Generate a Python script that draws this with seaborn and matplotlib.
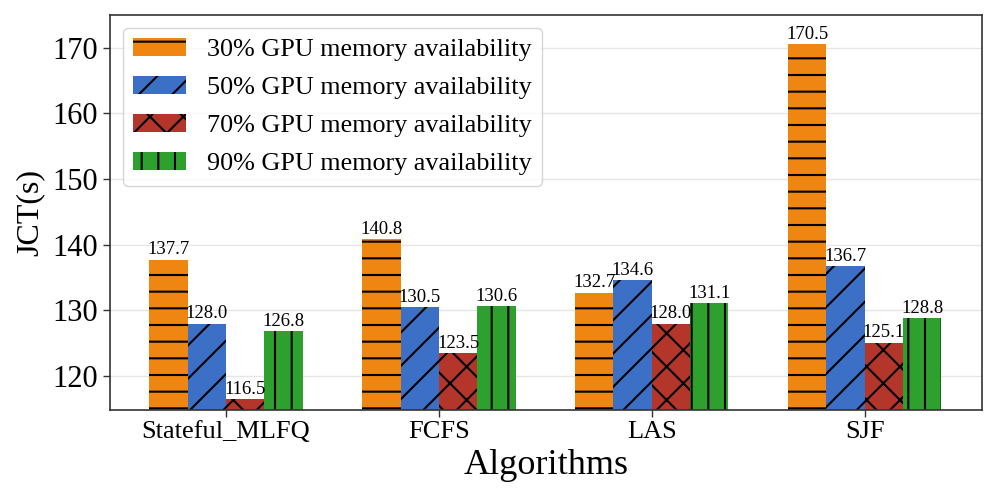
import numpy as np
import pandas as pd
import seaborn as sns
import matplotlib
matplotlib.use("Agg")
import matplotlib.pyplot as plt

algorithms = ["Stateful_MLFQ", "FCFS", "LAS", "SJF"]
levels = ["30% GPU memory availability", "50% GPU memory availability",
          "70% GPU memory availability", "90% GPU memory availability"]
jct_30 = [137.7, 140.8, 132.7, 170.5]
jct_50 = [128.0, 130.5, 134.6, 136.7]
jct_70 = [116.5, 123.5, 128.0, 125.1]
jct_90 = [126.8, 130.6, 131.1, 128.8]

colors = ["#EF8612", "#3C6FC6", "#B4362B", "#2DA02D"]
hatches = ["-", "/", "x", "|"]

rows = []
for lvl, vals in zip(levels, [jct_30, jct_50, jct_70, jct_90]):
    for alg, v in zip(algorithms, vals):
        rows.append({"Algorithm": alg, "Level": lvl, "JCT": v})
df = pd.DataFrame(rows)

sns.set_style("whitegrid")
plt.rcParams["font.family"] = ["Liberation Serif", "DejaVu Serif"]
plt.rcParams["hatch.linewidth"] = 1.5
plt.rcParams["hatch.color"] = "black"
plt.rcParams["text.color"] = "black"
plt.rcParams["axes.labelcolor"] = "black"
plt.rcParams["xtick.color"] = "black"
plt.rcParams["ytick.color"] = "black"

fig, ax = plt.subplots(figsize=(9.97, 4.98), dpi=100)
fig.subplots_adjust(left=0.1103, right=0.9847, top=0.9705, bottom=0.1775)

sns.barplot(data=df, x="Algorithm", y="JCT", hue="Level", palette=colors,
            width=0.72, gap=0, edgecolor="black", linewidth=0,
            legend=False, ax=ax, saturation=1)

for cont, h in zip(ax.containers, hatches):
    for p in cont:
        p.set_hatch(h)
        p.set_edgecolor("black")
        p.set_linewidth(0)
    ax.bar_label(cont, fmt="%.1f", fontsize=13.5, padding=1)

ax.set_ylim(114.9, 175.0)
ax.set_xlim(-0.545, 3.55)
ax.set_yticks([120, 130, 140, 150, 160, 170])
ax.grid(axis="x", visible=False)
ax.grid(axis="y", color="#e6e6e6", linewidth=1)
ax.set_axisbelow(True)
for s in ax.spines.values():
    s.set_visible(True)
    s.set_color("#333333")
    s.set_linewidth(1.2)
ax.tick_params(axis="both", which="both", length=5, width=1, color="#333333",
               bottom=True, left=True)
ax.tick_params(axis="y", labelsize=22)
ax.tick_params(axis="x", labelsize=19)
ax.set_xlabel("Algorithms", fontsize=26)
ax.set_ylabel("JCT(s)", fontsize=23, labelpad=6)

ax.legend(ax.containers, levels, loc="upper left", fontsize=18.8,
          frameon=True, edgecolor="#cccccc", fancybox=True,
          borderaxespad=0.5, labelspacing=0.56)

fig.savefig("out.png", dpi=100)
